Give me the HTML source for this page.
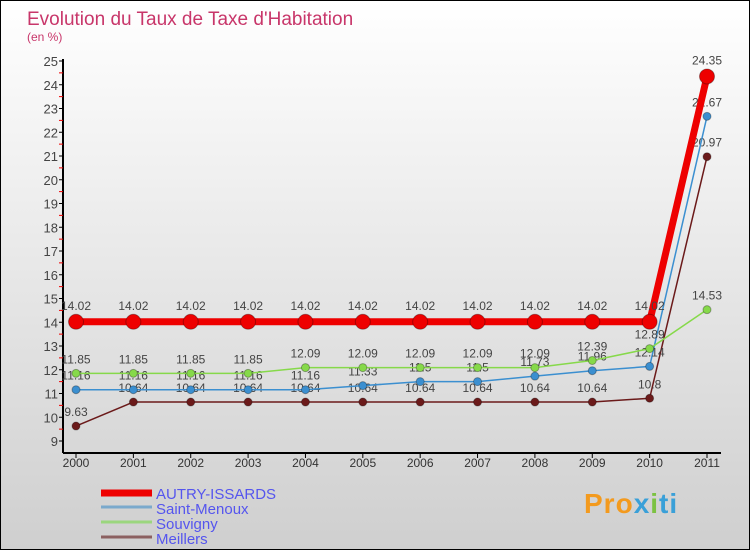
<!DOCTYPE html>
<html><head><meta charset="utf-8"><style>
body{margin:0}
#c{width:750px;height:550px;box-sizing:border-box;border:1px solid #000;background:linear-gradient(#fff,#cfcfcf);position:relative;overflow:hidden;font-family:"Liberation Sans",sans-serif}
svg{position:absolute;left:0;top:0}
</style></head><body>
<div id="c">
<svg id="s" width="750" height="550">
<text x="26" y="24" font-size="19" fill="#c8366a">Evolution du Taux de Taxe d'Habitation</text>
<text x="26" y="40" font-size="12" fill="#c8366a">(en %)</text>
</svg>
<div style="position:absolute;left:583px;top:487px;font-size:28px;font-weight:bold;color:#f39a1e;letter-spacing:1px">Pro<span style="color:#3aa0d8">x</span><span style="color:#7cc242">i</span><span style="color:#3aa0d8">ti</span></div>
</div>
<script>
const years=[2000,2001,2002,2003,2004,2005,2006,2007,2008,2009,2010,2011];
const autry=[14.02,14.02,14.02,14.02,14.02,14.02,14.02,14.02,14.02,14.02,14.02,24.35];
const menoux=[11.16,11.16,11.16,11.16,11.16,11.33,11.5,11.5,11.73,11.96,12.14,22.67];
const souvigny=[11.85,11.85,11.85,11.85,12.09,12.09,12.09,12.09,12.09,12.39,12.89,14.53];
const meillers=[9.63,10.64,10.64,10.64,10.64,10.64,10.64,10.64,10.64,10.64,10.8,20.97];
const yTicks=[9,10,11,12,13,14,15,16,17,18,19,20,21,22,23,24,25];
const names=["AUTRY-ISSARDS","Saint-Menoux","Souvigny","Meillers"];
const s=document.getElementById('s');const NS="http://www.w3.org/2000/svg";
const X=i=>75+i*(706-75)/11;const Y=v=>440-(v-9)*(380/16);
function el(t,a,txt){const e=document.createElementNS(NS,t);for(const k in a)e.setAttribute(k,a[k]);if(txt!==undefined)e.textContent=txt;s.appendChild(e);return e;}
let e=el('line',{x1:62,y1:58,x2:62,y2:452,stroke:'#000','stroke-width':2});

e=el('line',{x1:62,y1:452,x2:720,y2:452,stroke:'#000','stroke-width':2});

yTicks.forEach(v=>{el('line',{x1:58,x2:62,y1:Y(v),y2:Y(v),stroke:'#000'});
 if(v<25)el('line',{x1:58,x2:62,y1:Y(v+.5),y2:Y(v+.5),stroke:'#e00'});
 e=el('text',{x:57,y:Y(v)+5,'font-size':13,fill:'#444','text-anchor':'end'},v);
 });
years.forEach((y,i)=>{el('line',{x1:X(i),x2:X(i),y1:452,y2:457,stroke:'#000'});
 e=el('text',{x:X(i),y:466,'font-size':12,fill:'#333','text-anchor':'middle'},y);
 });
const fmt=v=>String(v).replace('.','.');
function series(d,col,w,r,name,dy){
 e=el('polyline',{points:d.map((v,i)=>X(i)+','+Y(v)).join(' '),fill:'none',stroke:col,'stroke-width':w});
 
 d.forEach((v,i)=>{e=el('circle',{cx:X(i),cy:Y(v),r:r,fill:col,stroke:'rgba(0,0,0,.3)'});
  
  e=el('text',{x:X(i),y:Y(v)+dy,'font-size':12,fill:'#444','text-anchor':'middle'},fmt(v));
  });}
series(meillers,'#6b1a1a',1.5,4,'meillers',-10);
series(menoux,'#3b8fd0',1.5,4,'saint-menoux',-10);
series(souvigny,'#86d94a',1.5,4,'souvigny',-10);
series(autry,'#ee0000',7,7.5,'autry-issards',-12);
const lcol=['#ee0000','#7aa9cc','#9bd67e','#8b6060'];const lw=[7,3,3,3];
names.forEach((n,i)=>{const y=492+i*15;
 e=el('line',{x1:100,x2:151,y1:y+ (i==0?0:-1),y2:y+(i==0?0:-1),stroke:lcol[i],'stroke-width':lw[i]});
 
 e=el('text',{x:155,y:y+6,'font-size':15,fill:'#5555ee'},n);
 });
</script>
</body></html>
